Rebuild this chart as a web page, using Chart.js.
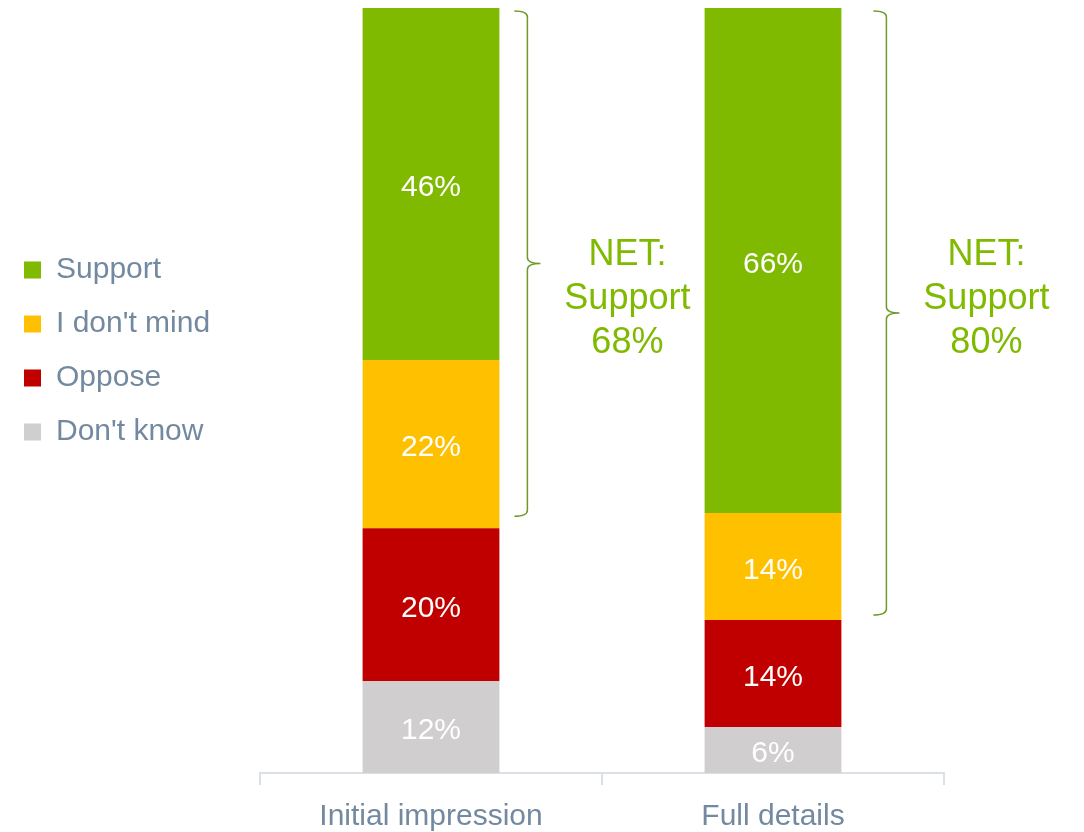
<!DOCTYPE html>
<html>
<head>
  <meta name="viewport" content="width=device-width, initial-scale=1.0">
  <title>Support stacked bars</title>
  <script src="https://cdn.jsdelivr.net/npm/chart.js@4"></script>
  <style>
    body {
      margin: 0;
      padding: 0;
      background: #fff;
    }
    #wrap {
      width: 1084px;
      height: 832px;
    }
  </style>
</head>
<body>
  <div id="wrap"><canvas id="myChart"></canvas></div>

  <script>
    // data
    const categories = ['Initial impression', 'Full details'];
    const dontKnow = [12, 6];
    const oppose = [20, 14];
    const dontMind = [22, 14];
    const support = [46, 66];
    const netSupport = [68, 80];

    const GREEN = '#7fba00';
    const TEXT = '#7389a0';
    const FONT = "'Liberation Sans', Arial, sans-serif";

    // labels inside each segment
    const segmentLabels = {
      id: 'segmentLabels',
      afterDatasetsDraw(chart) {
        const ctx = chart.ctx;
        ctx.save();
        ctx.font = '30px ' + FONT;
        ctx.fillStyle = '#ffffff';
        ctx.textAlign = 'center';
        ctx.textBaseline = 'middle';
        chart.data.datasets.forEach((ds, i) => {
          chart.getDatasetMeta(i).data.forEach((bar, j) => {
            const mid = (bar.y + bar.base) / 2;
            ctx.fillText(ds.data[j] + '%', bar.x, mid + 4);
          });
        });
        ctx.restore();
      }
    };

    // curly brace + NET text next to each bar
    const netBraces = {
      id: 'netBraces',
      afterDraw(chart) {
        const ctx = chart.ctx;
        const y = chart.scales.y;
        const meta = chart.getDatasetMeta(0);
        const offsets = [28, 45];
        const insets = [12, 5];
        ctx.save();
        netSupport.forEach((net, j) => {
          const bar = meta.data[j];
          const right = bar.x + bar.width / 2;
          const xv = right + offsets[j];
          const top = y.getPixelForValue(100) + 3;
          const bottom = y.getPixelForValue(100 - net) - insets[j];
          const mid = (top + bottom) / 2;
          const w = 13, r = 6;
          ctx.beginPath();
          ctx.moveTo(xv - w, top);
          ctx.quadraticCurveTo(xv, top, xv, top + r);
          ctx.lineTo(xv, mid - r);
          ctx.quadraticCurveTo(xv, mid, xv + w, mid);
          ctx.quadraticCurveTo(xv, mid, xv, mid + r);
          ctx.lineTo(xv, bottom - r);
          ctx.quadraticCurveTo(xv, bottom, xv - w, bottom);
          ctx.strokeStyle = '#6e9a28';
          ctx.lineWidth = 1.5;
          ctx.stroke();

          const cx = xv + w + 87;
          const cy = y.getPixelForValue(62);
          ctx.font = '36px ' + FONT;
          ctx.fillStyle = GREEN;
          ctx.textAlign = 'center';
          ctx.textBaseline = 'middle';
          ctx.fillText('NET:', cx, cy - 44);
          ctx.fillText('Support', cx, cy);
          ctx.fillText(net + '%', cx, cy + 44);
        });
        ctx.restore();
      }
    };

    const ctx = document.getElementById('myChart').getContext('2d');
    const chart = new Chart(ctx, {
      type: 'bar',
      data: {
        labels: categories,
        datasets: [
          { label: "Don't know", data: dontKnow, backgroundColor: '#d0cecf' },
          { label: 'Oppose', data: oppose, backgroundColor: '#c00000' },
          { label: "I don't mind", data: dontMind, backgroundColor: '#ffc000' },
          { label: 'Support', data: support, backgroundColor: GREEN }
        ]
      },
      options: {
        responsive: true,
        maintainAspectRatio: false,
        animation: false,
        datasets: {
          bar: {
            categoryPercentage: 1,
            barPercentage: 0.4
          }
        },
        layout: {
          padding: { top: 8, right: 140, bottom: 0, left: 0 }
        },
        plugins: {
          tooltip: { enabled: false },
          legend: {
            position: 'left',
            align: 'start',
            reverse: true,
            // empty title only pushes the items down
            title: {
              display: true,
              text: '',
              font: { size: 10 },
              padding: { top: 0, bottom: 211 }
            },
            labels: {
              boxWidth: 17,
              boxHeight: 17,
              padding: 24,
              color: TEXT,
              font: { size: 30, family: FONT }
            }
          }
        },
        scales: {
          x: {
            stacked: true,
            offset: true,
            grid: {
              display: true,
              offset: true,
              drawOnChartArea: false,
              tickLength: 12,
              color: '#dbe0e6',
              lineWidth: 2
            },
            border: { display: true, color: '#dbe0e6', width: 2 },
            ticks: {
              color: TEXT,
              padding: 14,
              font: { size: 30, family: FONT }
            },
            afterFit(scale) {
              scale.height = 59;
            }
          },
          y: {
            stacked: true,
            min: 0,
            max: 100,
            grid: { display: false },
            border: { display: false },
            ticks: { display: false },
            afterFit(scale) {
              const lg = scale.chart.legend;
              const lw = lg && lg.width ? lg.width : 230;
              scale.width = Math.max(0, 260 - lw);
            }
          }
        }
      },
      plugins: [segmentLabels, netBraces]
    });
  </script>
</body>
</html>
